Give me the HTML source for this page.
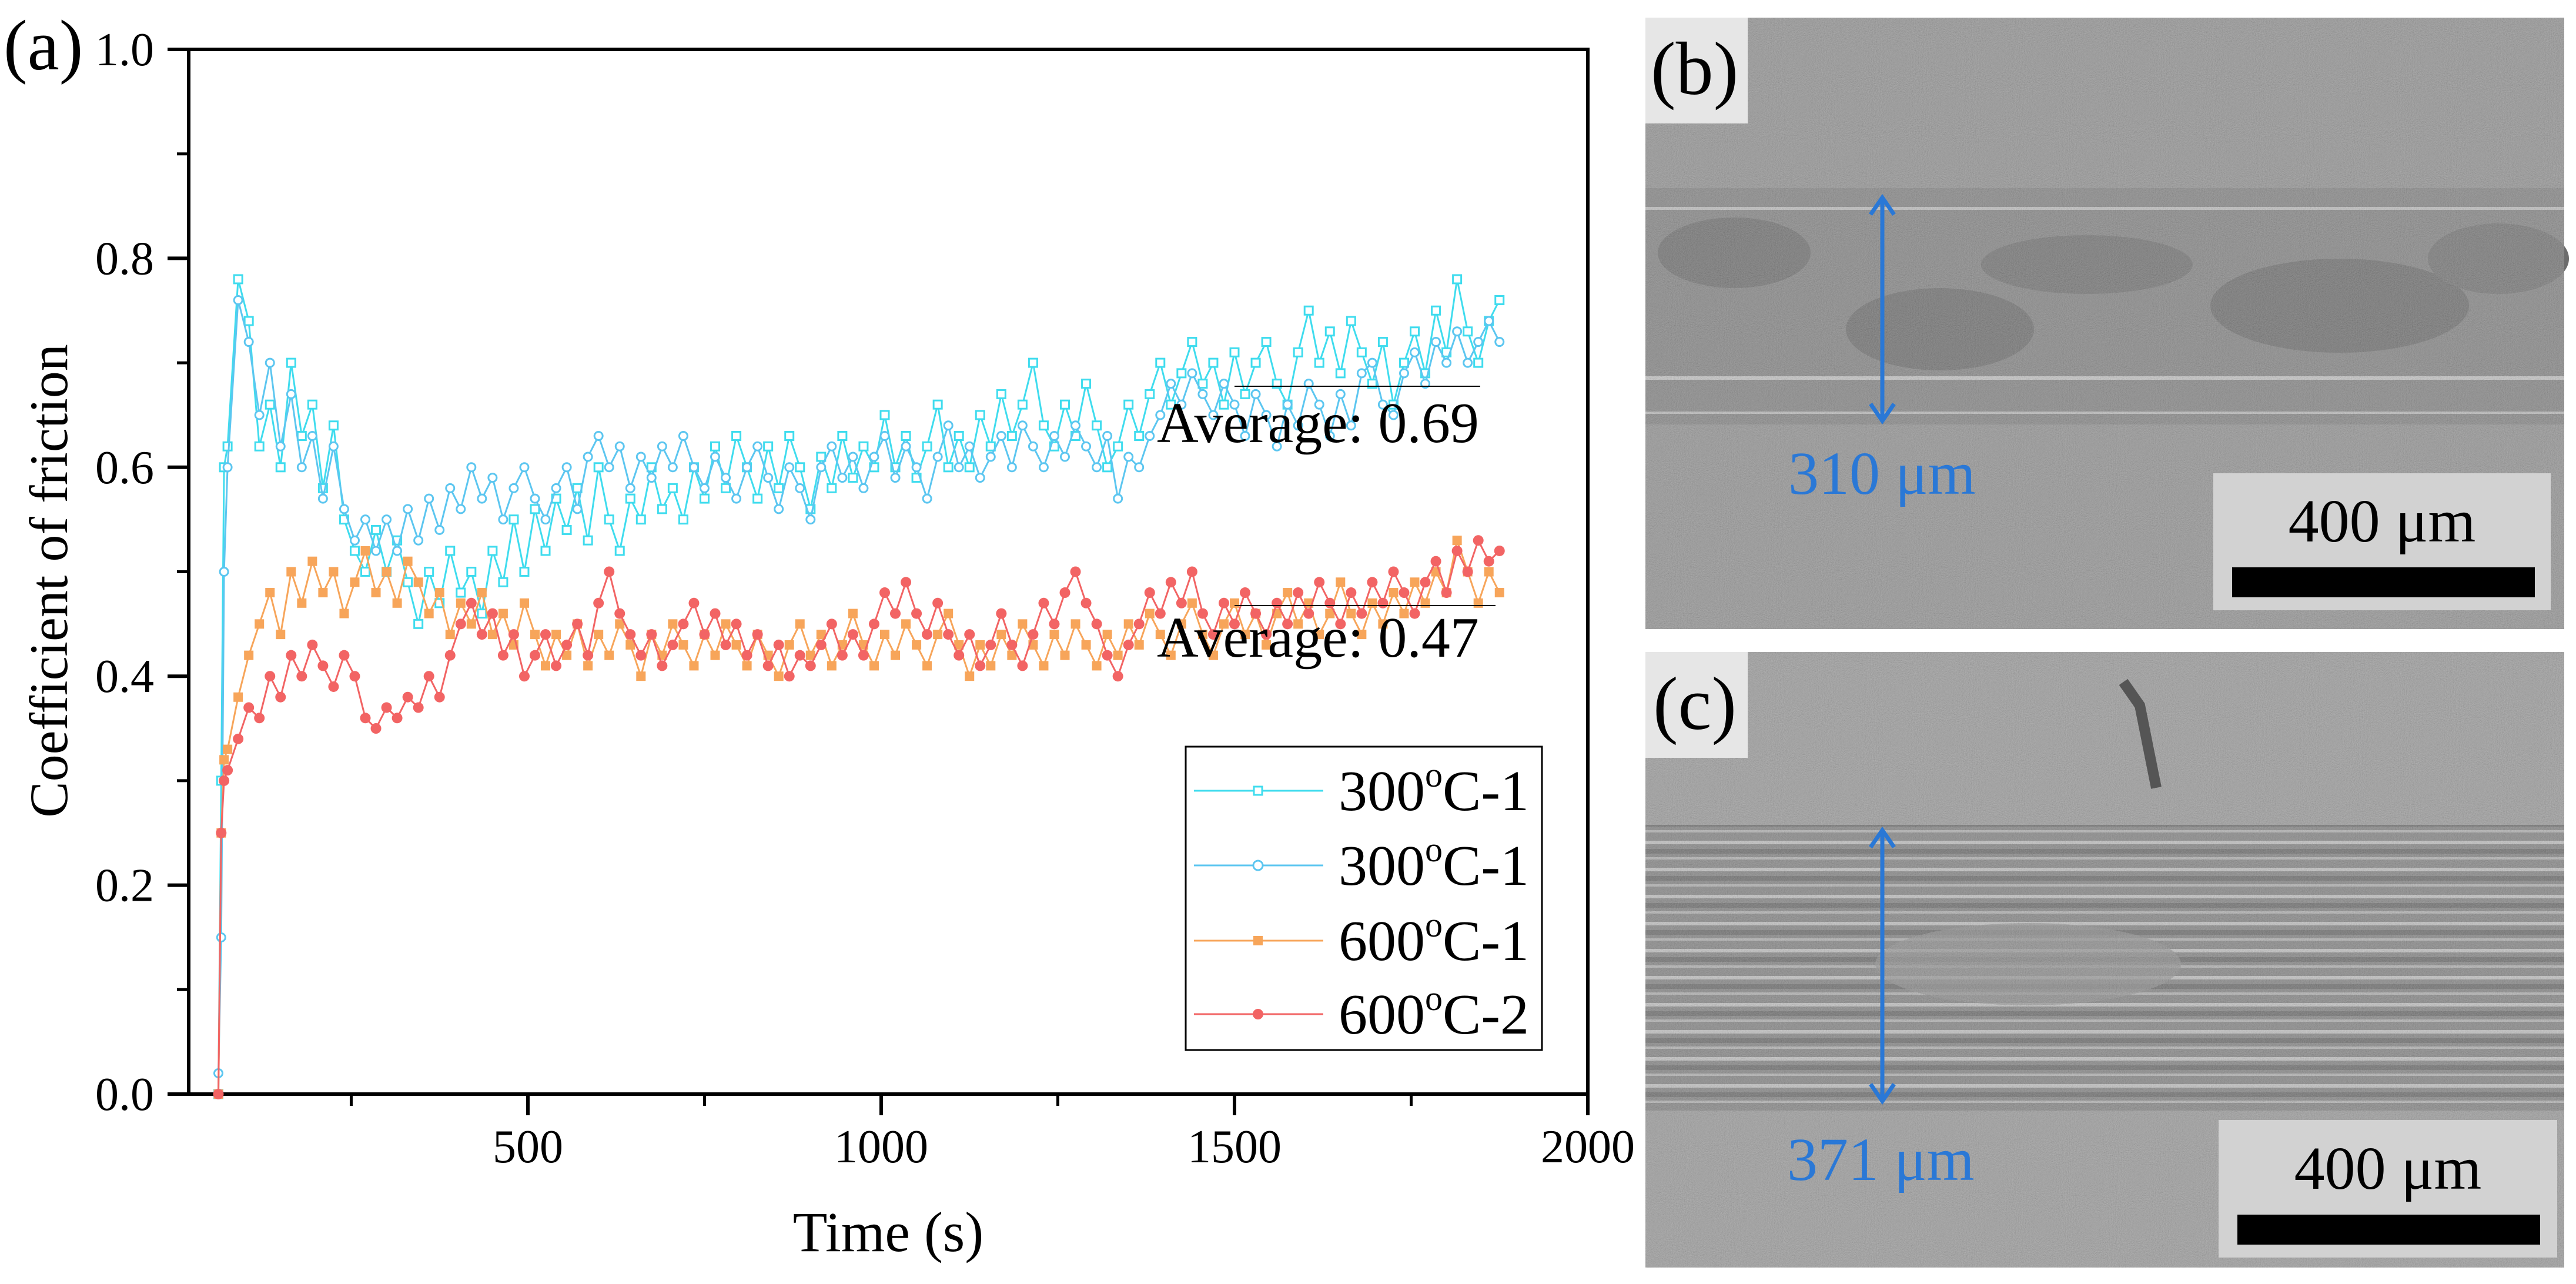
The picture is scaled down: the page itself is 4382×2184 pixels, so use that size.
<!DOCTYPE html>
<html><head><meta charset="utf-8"><style>
html,body{margin:0;padding:0;background:#fff;}
svg, svg text{font-family:"Liberation Serif","DejaVu Serif","Times New Roman",serif;}
</style></head><body>
<svg id="fig" width="4382" height="2179" viewBox="0 0 4382 2179" xmlns="http://www.w3.org/2000/svg" font-family="Liberation Serif, DejaVu Serif, serif">
<defs>
<filter id="noise" x="0" y="0" width="100%" height="100%" filterUnits="objectBoundingBox">
<feTurbulence type="fractalNoise" baseFrequency="0.6" numOctaves="2" seed="3" result="t"/>
<feColorMatrix type="matrix" in="t" values="0.33 0.33 0.33 0 0  0.33 0.33 0.33 0 0  0.33 0.33 0.33 0 0  0 0 0 0 0.35"/>
</filter>
<pattern id="stripes" patternUnits="userSpaceOnUse" width="40" height="46">
<rect width="40" height="46" fill="#7d7d7d"/>
<rect y="4" width="40" height="6" fill="#c0c0c0"/>
<rect y="18" width="40" height="8" fill="#626262"/>
<rect y="32" width="40" height="4" fill="#b0b0b0"/>
</pattern>
</defs>

<!-- Panel a -->
<g>
<text x="6" y="118" font-size="122">(a)</text>
<g id="axes"></g>
<g id="series"></g>
<text x="84" y="988" font-size="92" text-anchor="middle" transform="rotate(-90 84 988)" dy="30">Coefficient of friction</text>
<text x="1511" y="2128" font-size="96" text-anchor="middle">Time (s)</text>
<line x1="2100" y1="657" x2="2518" y2="657" stroke="#000" stroke-width="2"/>
<text x="1968" y="752" font-size="98">Average: 0.69</text>
<line x1="2100" y1="1030" x2="2544" y2="1030" stroke="#000" stroke-width="2"/>
<text x="1968" y="1117" font-size="98">Average: 0.47</text>
<g>
<rect x="2017" y="1270" width="606" height="516" fill="#fff" stroke="#000" stroke-width="3"/>
<g>
<line x1="2031" y1="1345" x2="2251" y2="1345" stroke="#3fdcee" stroke-width="3"/>
<rect x="2133" y="1338" width="14" height="14" fill="#fff" stroke="#3fdcee" stroke-width="3"/>
<text x="2277" y="1378" font-size="98">300<tspan font-size="60" dy="-40">o</tspan><tspan dy="40">C-1</tspan></text></g>
<g>
<line x1="2031" y1="1472" x2="2251" y2="1472" stroke="#5cc6f0" stroke-width="3"/>
<circle cx="2140" cy="1472" r="8" fill="#fff" stroke="#5cc6f0" stroke-width="3"/>
<text x="2277" y="1505" font-size="98">300<tspan font-size="60" dy="-40">o</tspan><tspan dy="40">C-1</tspan></text></g>
<g>
<line x1="2031" y1="1600" x2="2251" y2="1600" stroke="#f7a55a" stroke-width="3"/>
<rect x="2132" y="1592" width="16" height="16" fill="#f7a55a"/>
<text x="2277" y="1633" font-size="98">600<tspan font-size="60" dy="-40">o</tspan><tspan dy="40">C-1</tspan></text></g>
<g>
<line x1="2031" y1="1725" x2="2251" y2="1725" stroke="#f26464" stroke-width="3"/>
<circle cx="2140" cy="1725" r="9" fill="#f26464"/>
<text x="2277" y="1758" font-size="98">600<tspan font-size="60" dy="-40">o</tspan><tspan dy="40">C-2</tspan></text></g>
</g>
</g>

<!-- Panel b -->
<g>
<rect x="2799" y="30" width="1563" height="1040" fill="#8e8e8e"/>
<rect x="2799" y="320" width="1563" height="402" fill="#7e7e7e"/>
<ellipse cx="2950" cy="430" rx="130" ry="60" fill="#676767"/>
<ellipse cx="3300" cy="560" rx="160" ry="70" fill="#666"/>
<ellipse cx="3550" cy="450" rx="180" ry="50" fill="#6a6a6a"/>
<ellipse cx="3980" cy="520" rx="220" ry="80" fill="#666"/>
<ellipse cx="4250" cy="440" rx="120" ry="60" fill="#6c6c6c"/>
<rect x="2799" y="352" width="1563" height="5" fill="#bdbdbd"/>
<rect x="2799" y="640" width="1563" height="6" fill="#c4c4c4"/>
<rect x="2799" y="700" width="1563" height="4" fill="#bbbbbb"/>
<rect x="2799" y="30" width="1563" height="1040" fill="#888" filter="url(#noise)"/>
<rect x="2799" y="30" width="174" height="180" fill="#e6e6e6"/>
<text x="2808" y="160" font-size="128">(b)</text>
<g stroke="#2a78d6" stroke-width="7" fill="none">
<line x1="3202" y1="336" x2="3202" y2="716"/>
<polyline points="3182,365 3202,336 3222,365"/>
<polyline points="3182,687 3202,716 3222,687"/>
</g>
<text x="3042" y="840" font-size="104" fill="#2a78d6">310 μm</text>
<rect x="3765" y="805" width="574" height="233" fill="#d2d2d2"/>
<text x="4052" y="921" font-size="104" text-anchor="middle">400 μm</text>
<rect x="3797" y="965" width="515" height="51" fill="#000"/>
</g>

<!-- Panel c -->
<g>
<rect x="2799" y="1109" width="1563" height="1047" fill="#979797"/>
<rect x="2799" y="1403" width="1563" height="486" fill="url(#stripes)"/>
<ellipse cx="3450" cy="1640" rx="260" ry="70" fill="#8a8a8a" opacity="0.7"/>
<rect x="2799" y="1109" width="1563" height="1047" fill="#888" filter="url(#noise)"/>
<path d="M3612 1160 L3640 1200 L3668 1340" stroke="#555" stroke-width="18" fill="none"/>
<rect x="2799" y="1109" width="174" height="180" fill="#e6e6e6"/>
<text x="2812" y="1240" font-size="128">(c)</text>
<g stroke="#2a78d6" stroke-width="7" fill="none">
<line x1="3202" y1="1412" x2="3202" y2="1873"/>
<polyline points="3182,1441 3202,1412 3222,1441"/>
<polyline points="3182,1844 3202,1873 3222,1844"/>
</g>
<text x="3040" y="2007" font-size="104" fill="#2a78d6">371 μm</text>
<rect x="3774" y="1905" width="576" height="234" fill="#d2d2d2"/>
<text x="4062" y="2022" font-size="104" text-anchor="middle">400 μm</text>
<rect x="3806" y="2066" width="515" height="51" fill="#000"/>
</g>
</svg>
<script>
const times = [62,66,70,75,90,105,120,135,150,165,180,195,210,225,240,255,270,285,300,315,330,345,360,375,390,405,420,435,450,465,480,495,510,525,540,555,570,585,600,615,630,645,660,675,690,705,720,735,750,765,780,795,810,825,840,855,870,885,900,915,930,945,960,975,990,1005,1020,1035,1050,1065,1080,1095,1110,1125,1140,1155,1170,1185,1200,1215,1230,1245,1260,1275,1290,1305,1320,1335,1350,1365,1380,1395,1410,1425,1440,1455,1470,1485,1500,1515,1530,1545,1560,1575,1590,1605,1620,1635,1650,1665,1680,1695,1710,1725,1740,1755,1770,1785,1800,1815,1830,1845,1860,1875];
const cyanSquares = [0.0,0.3,0.6,0.62,0.78,0.74,0.62,0.66,0.6,0.7,0.63,0.66,0.58,0.64,0.55,0.52,0.5,0.54,0.5,0.53,0.49,0.45,0.5,0.47,0.52,0.48,0.5,0.46,0.52,0.49,0.55,0.5,0.56,0.52,0.57,0.54,0.58,0.53,0.6,0.55,0.52,0.57,0.55,0.6,0.56,0.58,0.55,0.6,0.57,0.62,0.58,0.63,0.6,0.57,0.62,0.58,0.63,0.6,0.56,0.61,0.58,0.63,0.59,0.62,0.6,0.65,0.6,0.63,0.59,0.62,0.66,0.6,0.63,0.6,0.65,0.62,0.67,0.63,0.66,0.7,0.64,0.62,0.66,0.63,0.68,0.64,0.6,0.62,0.66,0.63,0.67,0.7,0.66,0.69,0.72,0.68,0.7,0.66,0.71,0.67,0.7,0.72,0.68,0.66,0.71,0.75,0.7,0.73,0.69,0.74,0.71,0.68,0.72,0.66,0.7,0.73,0.69,0.75,0.71,0.78,0.73,0.7,0.74,0.76];
const cyanCircles = [0.02,0.15,0.5,0.6,0.76,0.72,0.65,0.7,0.62,0.67,0.6,0.63,0.57,0.62,0.56,0.53,0.55,0.52,0.55,0.52,0.56,0.53,0.57,0.54,0.58,0.56,0.6,0.57,0.59,0.55,0.58,0.6,0.57,0.55,0.58,0.6,0.56,0.61,0.63,0.6,0.62,0.58,0.61,0.59,0.62,0.6,0.63,0.6,0.58,0.61,0.59,0.57,0.6,0.62,0.59,0.56,0.6,0.58,0.55,0.6,0.62,0.59,0.61,0.58,0.61,0.63,0.59,0.62,0.6,0.57,0.61,0.64,0.6,0.62,0.59,0.61,0.63,0.6,0.64,0.62,0.6,0.63,0.61,0.64,0.62,0.6,0.63,0.57,0.61,0.6,0.63,0.65,0.68,0.66,0.69,0.67,0.65,0.68,0.66,0.63,0.67,0.65,0.62,0.66,0.64,0.68,0.66,0.63,0.67,0.64,0.69,0.7,0.66,0.65,0.69,0.71,0.68,0.72,0.7,0.73,0.7,0.72,0.74,0.72];
const orange600 = [0.0,0.25,0.32,0.33,0.38,0.42,0.45,0.48,0.44,0.5,0.47,0.51,0.48,0.5,0.46,0.49,0.52,0.48,0.5,0.47,0.51,0.49,0.46,0.48,0.44,0.47,0.45,0.48,0.44,0.46,0.43,0.47,0.44,0.41,0.44,0.42,0.45,0.41,0.44,0.42,0.45,0.43,0.4,0.44,0.42,0.45,0.43,0.41,0.44,0.42,0.45,0.43,0.41,0.44,0.42,0.4,0.43,0.45,0.42,0.44,0.41,0.43,0.46,0.43,0.41,0.44,0.42,0.45,0.43,0.41,0.44,0.46,0.43,0.4,0.43,0.41,0.44,0.42,0.45,0.43,0.41,0.44,0.42,0.45,0.43,0.41,0.44,0.42,0.45,0.43,0.46,0.44,0.42,0.45,0.47,0.44,0.42,0.45,0.47,0.44,0.46,0.43,0.46,0.48,0.45,0.47,0.44,0.46,0.49,0.46,0.44,0.47,0.45,0.48,0.46,0.49,0.47,0.5,0.48,0.53,0.5,0.47,0.5,0.48];
const red600 = [0.0,0.25,0.3,0.31,0.34,0.37,0.36,0.4,0.38,0.42,0.4,0.43,0.41,0.39,0.42,0.4,0.36,0.35,0.37,0.36,0.38,0.37,0.4,0.38,0.42,0.45,0.47,0.44,0.46,0.42,0.44,0.4,0.42,0.44,0.41,0.43,0.45,0.42,0.47,0.5,0.46,0.44,0.42,0.44,0.41,0.43,0.45,0.47,0.44,0.46,0.43,0.45,0.42,0.44,0.41,0.43,0.4,0.42,0.41,0.43,0.45,0.42,0.44,0.42,0.45,0.48,0.46,0.49,0.46,0.44,0.47,0.44,0.42,0.44,0.41,0.43,0.46,0.43,0.41,0.44,0.47,0.45,0.48,0.5,0.47,0.45,0.42,0.4,0.43,0.45,0.48,0.46,0.49,0.47,0.5,0.46,0.44,0.47,0.45,0.48,0.46,0.44,0.47,0.45,0.48,0.46,0.49,0.47,0.45,0.48,0.46,0.49,0.47,0.5,0.48,0.46,0.49,0.51,0.48,0.52,0.5,0.53,0.51,0.52];
const xTicks = [500,1000,1500,2000];
const xMinorTicks = [250,750,1250,1750];
const yTicks = [0.0,0.2,0.4,0.6,0.8,1.0];
const yMinorTicks = [0.1,0.3,0.5,0.7,0.9];

const NS = 'http://www.w3.org/2000/svg';
const L = 321, R = 2701, T = 84, B = 1861, XMIN = 20, XMAX = 2000, YMIN = 0, YMAX = 1;
function xs(t){ return L + (t - XMIN) / (XMAX - XMIN) * (R - L); }
function ys(v){ return B - (v - YMIN) / (YMAX - YMIN) * (B - T); }
function mk(tag, attrs, parent){ const e = document.createElementNS(NS, tag); for (const k in attrs) e.setAttribute(k, attrs[k]); parent.appendChild(e); return e; }

const axes = document.getElementById('axes');
const frame = mk('rect', {x:L, y:T, width:R-L, height:B-T, fill:'none', stroke:'#000', 'stroke-width':6}, axes);


xTicks.forEach(function(t){
  const tk = mk('line', {x1:xs(t), y1:B, x2:xs(t), y2:B+36, stroke:'#000', 'stroke-width':6}, axes);
  
  
  const lb = mk('text', {x:xs(t), y:1977, 'font-size':80, 'text-anchor':'middle'}, axes);
  lb.textContent = String(t);
  
  
});
xMinorTicks.forEach(function(t){
  const tk = mk('line', {x1:xs(t), y1:B, x2:xs(t), y2:B+20, stroke:'#000', 'stroke-width':5}, axes);
  
  
});
yTicks.forEach(function(v){
  const tk = mk('line', {x1:L-36, y1:ys(v), x2:L, y2:ys(v), stroke:'#000', 'stroke-width':6}, axes);
  
  
  const lb = mk('text', {x:262, y:ys(v)+27, 'font-size':80, 'text-anchor':'end'}, axes);
  lb.textContent = v.toFixed(1);
  
  
});
yMinorTicks.forEach(function(v){
  const tk = mk('line', {x1:L-20, y1:ys(v), x2:L, y2:ys(v), stroke:'#000', 'stroke-width':5}, axes);
  
  
});

const sg = document.getElementById('series');
function drawSeries(vals, color, marker, name){
  const g = mk('g', {}, sg);
  
  
  const n = Math.min(vals.length, times.length);
  let d = '';
  for (let i = 0; i < n; i++) d += (i ? 'L' : 'M') + xs(times[i]).toFixed(1) + ' ' + ys(vals[i]).toFixed(1);
  const p = mk('path', {d:d, fill:'none', stroke:color, 'stroke-width':3}, g);
  
  
  for (let i = 0; i < n; i++){
    const x = xs(times[i]), y = ys(vals[i]);
    let m;
    if (marker === 'sqOpen') m = mk('rect', {x:x-7, y:y-7, width:14, height:14, fill:'#fff', stroke:color, 'stroke-width':3}, g);
    else if (marker === 'cirOpen') m = mk('circle', {cx:x, cy:y, r:7, fill:'#fff', stroke:color, 'stroke-width':3}, g);
    else if (marker === 'sq') m = mk('rect', {x:x-8, y:y-8, width:16, height:16, fill:color}, g);
    else m = mk('circle', {cx:x, cy:y, r:9, fill:color}, g);
    
    
  }
}
drawSeries(cyanSquares, '#3fdcee', 'sqOpen', 'series-300c-1-squares');
drawSeries(cyanCircles, '#5cc6f0', 'cirOpen', 'series-300c-1-circles');
drawSeries(orange600, '#f7a55a', 'sq', 'series-600c-1');
drawSeries(red600, '#f26464', 'cir', 'series-600c-2');
</script>
</body></html>
